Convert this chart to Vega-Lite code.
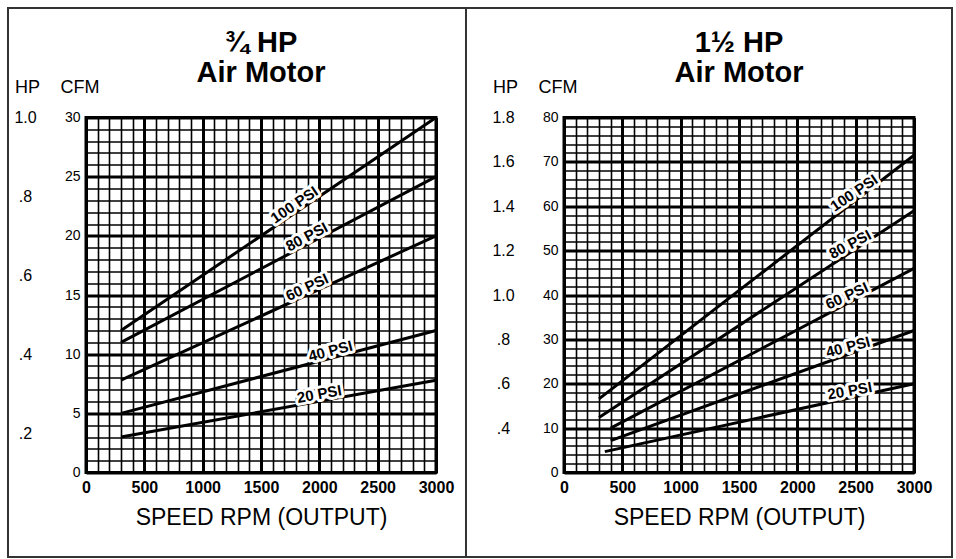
{
  "$schema": "https://vega.github.io/schema/vega-lite/v6.json",
  "background": "white",
  "padding": {"left": 5, "top": 4.5, "right": 3, "bottom": 1},
  "autosize": {"type": "pad"},
  "spacing": 128,
  "bounds": "flush",
  "datasets": {
    "frame": [{}],
    "left_lines": [
      {"psi": 100, "rpm": 300, "cfm": 12}, {"psi": 100, "rpm": 3000, "cfm": 30},
      {"psi": 80, "rpm": 300, "cfm": 11}, {"psi": 80, "rpm": 3000, "cfm": 25},
      {"psi": 60, "rpm": 300, "cfm": 7.8}, {"psi": 60, "rpm": 3000, "cfm": 20},
      {"psi": 40, "rpm": 300, "cfm": 5}, {"psi": 40, "rpm": 3000, "cfm": 12},
      {"psi": 20, "rpm": 300, "cfm": 3}, {"psi": 20, "rpm": 3000, "cfm": 7.8}
    ],
    "left_labels": [
      {"psi": 100, "label": "100 PSI", "rpm": 1820, "cfm": 22.13},
      {"psi": 80, "label": "80 PSI", "rpm": 1920, "cfm": 19.4},
      {"psi": 60, "label": "60 PSI", "rpm": 1920, "cfm": 15.12},
      {"psi": 40, "label": "40 PSI", "rpm": 2110, "cfm": 9.69},
      {"psi": 20, "label": "20 PSI", "rpm": 2010, "cfm": 6.04}
    ],
    "left_hp": [{"hp": 0.2}, {"hp": 0.4}, {"hp": 0.6}, {"hp": 0.8}, {"hp": 1.0}],
    "right_lines": [
      {"psi": 100, "rpm": 300, "cfm": 16.6}, {"psi": 100, "rpm": 3000, "cfm": 71.5},
      {"psi": 80, "rpm": 300, "cfm": 12.4}, {"psi": 80, "rpm": 3000, "cfm": 59},
      {"psi": 60, "rpm": 400, "cfm": 10}, {"psi": 60, "rpm": 3000, "cfm": 46},
      {"psi": 40, "rpm": 400, "cfm": 7.2}, {"psi": 40, "rpm": 3000, "cfm": 32},
      {"psi": 20, "rpm": 350, "cfm": 4.7}, {"psi": 20, "rpm": 3000, "cfm": 20}
    ],
    "right_labels": [
      {"psi": 100, "label": "100 PSI", "rpm": 2520, "cfm": 61.7},
      {"psi": 80, "label": "80 PSI", "rpm": 2480, "cfm": 50.03},
      {"psi": 60, "label": "60 PSI", "rpm": 2450, "cfm": 38.38},
      {"psi": 40, "label": "40 PSI", "rpm": 2450, "cfm": 26.75},
      {"psi": 20, "label": "20 PSI", "rpm": 2460, "cfm": 16.88}
    ],
    "right_hp": [{"hp": 0.4}, {"hp": 0.6}, {"hp": 0.8}, {"hp": 1.0}, {"hp": 1.2}, {"hp": 1.4}, {"hp": 1.6}, {"hp": 1.8}]
  },
  "hconcat": [
    {
      "width": 350,
      "height": 355,
      "title": {"text": ["¾ HP", "Air Motor"], "font": "Liberation Sans", "fontSize": 29, "fontWeight": "bold", "lineHeight": 30, "anchor": "middle", "frame": "group", "baseline": "alphabetic", "offset": -104, "color": "black"},
      "layer": [
        {
          "layer": [
            {
              "data": {"name": "frame"},
              "mark": {"type": "rect", "fill": null, "stroke": "#333", "strokeWidth": 2},
              "encoding": {
                "x": {"datum": -668.6, "type": "quantitative", "scale": {"domain": [0, 3000], "nice": false, "zero": false}},
                "x2": {"datum": 3257.1},
                "y": {"datum": 39.25, "type": "quantitative", "scale": {"domain": [0, 30], "nice": false, "zero": false}},
                "y2": {"datum": -7.14}
              }
            },
            {
              "data": {"name": "left_lines"},
              "mark": {"type": "line", "stroke": "black", "strokeWidth": 3},
              "encoding": {
                "x": {"field": "rpm", "type": "quantitative", "scale": {"domain": [0, 3000], "nice": false, "zero": false},
                  "axis": {"values": [0,100,200,300,400,500,600,700,800,900,1000,1100,1200,1300,1400,1500,1600,1700,1800,1900,2000,2100,2200,2300,2400,2500,2600,2700,2800,2900,3000],
                    "tickCount": 200, "format": "d", "labelExpr": "datum.value % 500 === 0 ? datum.label : ''",
                    "labelFontSize": 16, "labelFontWeight": "bold", "labelPadding": 7,
                    "grid": true, "gridWidth": {"condition": {"test": "datum.value % 500 === 0", "value": 3}, "value": 1.6},
                    "title": "SPEED RPM (OUTPUT)", "titleFontSize": 23, "titleFontWeight": "normal", "titleY": 52, "titleBaseline": "alphabetic"}},
                "y": {"field": "cfm", "type": "quantitative", "scale": {"domain": [0, 30], "nice": false, "zero": false},
                  "axis": {"values": [0,1,2,3,4,5,6,7,8,9,10,11,12,13,14,15,16,17,18,19,20,21,22,23,24,25,26,27,28,29,30],
                    "tickCount": 200, "format": "d", "labelExpr": "datum.value % 5 === 0 ? datum.label : ''",
                    "labelFontSize": 14, "labelPadding": 6,
                    "grid": true, "gridWidth": {"condition": {"test": "datum.value % 5 === 0", "value": 3}, "value": 1.6},
                    "title": "CFM", "titleAngle": 0, "titleAlign": "left", "titleBaseline": "alphabetic", "titleX": -26, "titleY": -25, "titleFontSize": 18, "titleFontWeight": "normal"}},
                "detail": {"field": "psi"}
              }
            },
            {
              "data": {"name": "left_labels"},
              "mark": {"type": "text", "font": "Liberation Sans", "fontSize": 15, "fontWeight": "bold", "align": "center", "baseline": "bottom", "dy": 1, "fill": "white", "stroke": "white", "strokeWidth": 6, "strokeJoin": "round"},
              "encoding": {
                "x": {"field": "rpm", "type": "quantitative", "scale": {"domain": [0, 3000], "nice": false, "zero": false}},
                "y": {"field": "cfm", "type": "quantitative", "scale": {"domain": [0, 30], "nice": false, "zero": false}},
                "text": {"field": "label"},
                "angle": {"field": "psi", "type": "quantitative", "scale": {"type": "linear", "domain": [20, 40, 60, 80, 100], "range": [-10.2, -14.7, -24.6, -27.7, -34.1]}, "legend": null}
              }
            },
            {
              "data": {"name": "left_labels"},
              "mark": {"type": "text", "font": "Liberation Sans", "fontSize": 15, "fontWeight": "bold", "align": "center", "baseline": "bottom", "dy": 1, "fill": "black"},
              "encoding": {
                "x": {"field": "rpm", "type": "quantitative", "scale": {"domain": [0, 3000], "nice": false, "zero": false}},
                "y": {"field": "cfm", "type": "quantitative", "scale": {"domain": [0, 30], "nice": false, "zero": false}},
                "text": {"field": "label"},
                "angle": {"field": "psi", "type": "quantitative", "scale": {"type": "linear", "domain": [20, 40, 60, 80, 100], "range": [-10.2, -14.7, -24.6, -27.7, -34.1]}, "legend": null}
              }
            }
          ]
        },
        {
          "data": {"name": "left_hp"},
          "mark": {"type": "point", "opacity": 0},
          "encoding": {
            "y": {"field": "hp", "type": "quantitative", "scale": {"domain": [0.1, 1.0], "nice": false, "zero": false},
              "axis": {"orient": "left", "offset": 61, "values": [0.2, 0.4, 0.6, 0.8, 1.0], "tickCount": 200,
                "labelExpr": "datum.value >= 1 ? format(datum.value, '.1f') : replace(format(datum.value, '.1f'), '0.', '.')",
                "labelAlign": "center", "labelPadding": 0, "labelFontSize": 16, "grid": false,
                "title": "HP", "titleAngle": 0, "titleAlign": "center", "titleBaseline": "alphabetic", "titleX": 2, "titleY": -25, "titleFontSize": 18, "titleFontWeight": "normal"}}
          }
        }
      ],
      "resolve": {"scale": {"y": "independent"}, "axis": {"y": "independent"}}
    },
    {
      "width": 350,
      "height": 355,
      "title": {"text": ["1½ HP", "Air Motor"], "font": "Liberation Sans", "fontSize": 29, "fontWeight": "bold", "lineHeight": 30, "anchor": "middle", "frame": "group", "baseline": "alphabetic", "offset": -104, "color": "black"},
      "layer": [
        {
          "layer": [
            {
              "data": {"name": "frame"},
              "mark": {"type": "rect", "fill": null, "stroke": "#333", "strokeWidth": 2},
              "encoding": {
                "x": {"datum": -840, "type": "quantitative", "scale": {"domain": [0, 3000], "nice": false, "zero": false}},
                "x2": {"datum": 3325.7},
                "y": {"datum": 104.68, "type": "quantitative", "scale": {"domain": [0, 80], "nice": false, "zero": false}},
                "y2": {"datum": -19.04}
              }
            },
            {
              "data": {"name": "right_lines"},
              "mark": {"type": "line", "stroke": "black", "strokeWidth": 3},
              "encoding": {
                "x": {"field": "rpm", "type": "quantitative", "scale": {"domain": [0, 3000], "nice": false, "zero": false},
                  "axis": {"values": [0,100,200,300,400,500,600,700,800,900,1000,1100,1200,1300,1400,1500,1600,1700,1800,1900,2000,2100,2200,2300,2400,2500,2600,2700,2800,2900,3000],
                    "tickCount": 200, "format": "d", "labelExpr": "datum.value % 500 === 0 ? datum.label : ''",
                    "labelFontSize": 16, "labelFontWeight": "bold", "labelPadding": 7,
                    "grid": true, "gridWidth": {"condition": {"test": "datum.value % 500 === 0", "value": 3}, "value": 1.6},
                    "title": "SPEED RPM (OUTPUT)", "titleFontSize": 23, "titleFontWeight": "normal", "titleY": 52, "titleBaseline": "alphabetic"}},
                "y": {"field": "cfm", "type": "quantitative", "scale": {"domain": [0, 80], "nice": false, "zero": false},
                  "axis": {"values": [0,2,4,6,8,10,12,14,16,18,20,22,24,26,28,30,32,34,36,38,40,42,44,46,48,50,52,54,56,58,60,62,64,66,68,70,72,74,76,78,80],
                    "tickCount": 200, "format": "d", "labelExpr": "datum.value % 10 === 0 ? datum.label : ''",
                    "labelFontSize": 14, "labelPadding": 6,
                    "grid": true, "gridWidth": {"condition": {"test": "datum.value % 10 === 0", "value": 3}, "value": 1.6},
                    "title": "CFM", "titleAngle": 0, "titleAlign": "left", "titleBaseline": "alphabetic", "titleX": -26, "titleY": -25, "titleFontSize": 18, "titleFontWeight": "normal"}},
                "detail": {"field": "psi"}
              }
            },
            {
              "data": {"name": "right_labels"},
              "mark": {"type": "text", "font": "Liberation Sans", "fontSize": 15, "fontWeight": "bold", "align": "center", "baseline": "bottom", "dy": 1, "fill": "white", "stroke": "white", "strokeWidth": 6, "strokeJoin": "round"},
              "encoding": {
                "x": {"field": "rpm", "type": "quantitative", "scale": {"domain": [0, 3000], "nice": false, "zero": false}},
                "y": {"field": "cfm", "type": "quantitative", "scale": {"domain": [0, 80], "nice": false, "zero": false}},
                "text": {"field": "label"},
                "angle": {"field": "psi", "type": "quantitative", "scale": {"type": "linear", "domain": [20, 40, 60, 80, 100], "range": [-12.4, -19.9, -27.8, -33.3, -37.7]}, "legend": null}
              }
            },
            {
              "data": {"name": "right_labels"},
              "mark": {"type": "text", "font": "Liberation Sans", "fontSize": 15, "fontWeight": "bold", "align": "center", "baseline": "bottom", "dy": 1, "fill": "black"},
              "encoding": {
                "x": {"field": "rpm", "type": "quantitative", "scale": {"domain": [0, 3000], "nice": false, "zero": false}},
                "y": {"field": "cfm", "type": "quantitative", "scale": {"domain": [0, 80], "nice": false, "zero": false}},
                "text": {"field": "label"},
                "angle": {"field": "psi", "type": "quantitative", "scale": {"type": "linear", "domain": [20, 40, 60, 80, 100], "range": [-12.4, -19.9, -27.8, -33.3, -37.7]}, "legend": null}
              }
            }
          ]
        },
        {
          "data": {"name": "right_hp"},
          "mark": {"type": "point", "opacity": 0},
          "encoding": {
            "y": {"field": "hp", "type": "quantitative", "scale": {"domain": [0.2, 1.8], "nice": false, "zero": false},
              "axis": {"orient": "left", "offset": 61, "values": [0.4, 0.6, 0.8, 1.0, 1.2, 1.4, 1.6, 1.8], "tickCount": 200,
                "labelExpr": "datum.value >= 1 ? format(datum.value, '.1f') : replace(format(datum.value, '.1f'), '0.', '.')",
                "labelAlign": "center", "labelPadding": 0, "labelFontSize": 16, "grid": false,
                "title": "HP", "titleAngle": 0, "titleAlign": "center", "titleBaseline": "alphabetic", "titleX": 2, "titleY": -25, "titleFontSize": 18, "titleFontWeight": "normal"}}
          }
        }
      ],
      "resolve": {"scale": {"y": "independent"}, "axis": {"y": "independent"}}
    }
  ],
  "config": {
    "view": {"stroke": "black", "strokeWidth": 3},
    "font": "Liberation Sans",
    "axis": {"labelColor": "black", "titleColor": "black", "labelFont": "Liberation Sans", "titleFont": "Liberation Sans", "ticks": false, "domain": false, "labelOverlap": false, "labelFlush": false, "gridColor": "black", "gridOpacity": 1}
  }
}
